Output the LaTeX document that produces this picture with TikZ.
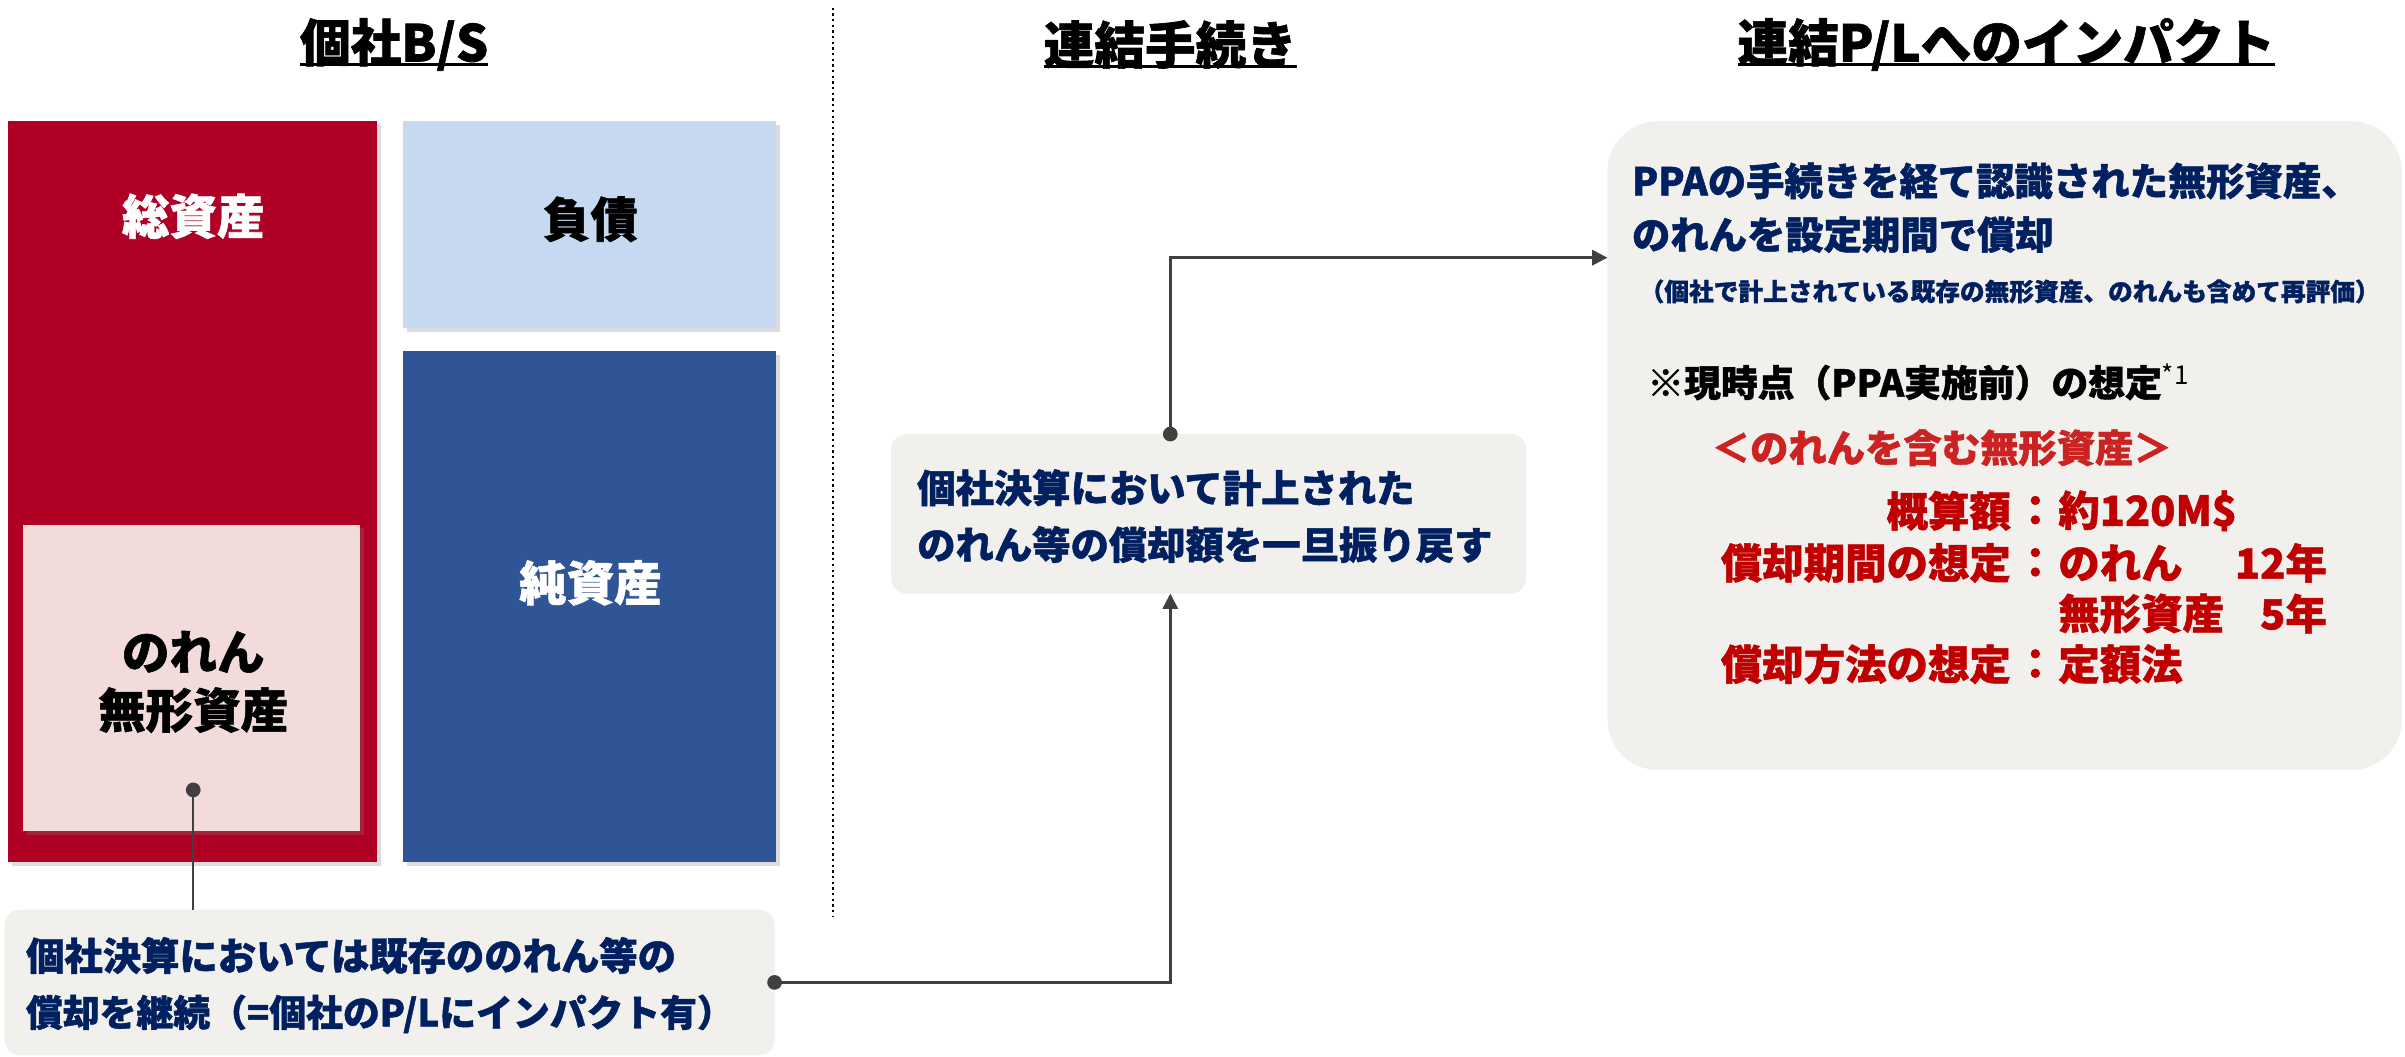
\documentclass[tikz,border=0pt]{standalone}
\usepackage{fontspec}
\setmainfont{Noto Sans CJK JP}[BoldFeatures={FakeBold=1.2}]
\usetikzlibrary{arrows.meta,shadows,calc}
\definecolor{redbox}{HTML}{B10026}
\definecolor{lightblue}{HTML}{C6D9F1}
\definecolor{darkblue}{HTML}{2F5597}
\definecolor{pinkbox}{HTML}{F2DCDB}
\definecolor{graybox}{HTML}{F2F0ED}
\definecolor{navy}{HTML}{002060}
\definecolor{redtext}{HTML}{C00000}
\definecolor{redhead}{HTML}{CC2222}
\definecolor{conn}{HTML}{404040}
\begin{document}
\begin{tikzpicture}[x=1pt,y=-1pt,
  every node/.style={inner sep=0pt,outer sep=0pt},
  ttl/.style={font=\fontsize{33}{36}\selectfont\bfseries,text=black},
  big/.style={font=\fontsize{31}{36}\selectfont\bfseries},
  bodyt/.style={font=\fontsize{25}{30}\selectfont\bfseries,text=navy},
  smallt/.style={font=\fontsize{16.1}{20}\selectfont\bfseries,text=navy},
  tabt/.style={font=\fontsize{27}{30}\selectfont\bfseries,text=redtext},
  sqbox/.style={anchor=north west,drop shadow={opacity=0.28,shadow xshift=2.5pt,shadow yshift=-2.5pt}},
  rbox/.style={anchor=north west,fill=graybox,rounded corners=#1},
  conline/.style={draw=conn,line width=1.6pt},
  tip/.style={-{Triangle[length=10pt,width=10pt]}},
  dotc/.style={fill=conn}
]
\useasboundingbox (0,0) rectangle (1568,689);

% titles
\node[ttl] (h1) at (257,29) {個社B/S};
\node[ttl] (h2) at (763,29) {連結手続き};
\node[ttl] (h3) at (1308,29) {連結P/Lへのインパクト};
\foreach \h in {h1,h2,h3}
  \draw[line width=2pt] ($(\h.base west)+(0,2)$) -- ($(\h.base east)+(0,2)$);

% divider
\coordinate (dvt) at (543,5);
\coordinate (dvb) at (543,598);
\draw[line width=1.2pt,dash pattern=on 1.5pt off 2.2pt] (dvt) -- (dvb);

% B/S boxes
\node[sqbox,fill=redbox,minimum width=241pt,minimum height=483pt] (ta) at (5,79) {};
\node[sqbox,fill=lightblue,minimum width=243pt,minimum height=135pt] (li) at (263,79) {};
\node[sqbox,fill=darkblue,minimum width=243pt,minimum height=333pt] (na) at (263,229) {};
\node[sqbox,fill=pinkbox,minimum width=220pt,minimum height=200pt] (gw) at (15,342) {};

\node[big,text=white] (tat) at (126,141) {総資産};
\node[big,text=black] (lit) at (385,143) {負債};
\node[big,text=white] (nat) at (385,380) {純資産};
\node[big,text=black] (gw1) at (126,425) {のれん};
\node[big,text=black] (gw2) at (126,463) {無形資産};

% gray boxes
\node[rbox=10pt,minimum width=502pt,minimum height=95pt] (bot) at (3,593) {};
\node[bodyt,anchor=west] (bot1) at (17,623) {個社決算においては既存ののれん等の};
\node[bodyt,anchor=west,font=\fontsize{24}{30}\selectfont\bfseries] (bot2) at (17,661) {償却を継続（=個社のP/Lにインパクト有）};

\node[rbox=10pt,minimum width=414pt,minimum height=104pt] (mid) at (581,283) {};
\node[bodyt,anchor=west] (mid1) at (598,318) {個社決算において計上された};
\node[bodyt,anchor=west] (mid2) at (598,355) {のれん等の償却額を一旦振り戻す};

\node[rbox=33pt,minimum width=518pt,minimum height=423pt] (rb) at (1048,79) {};
\node[bodyt,anchor=west] (r1) at (1064,118) {PPAの手続きを経て認識された無形資産、};
\node[bodyt,anchor=west] (r2) at (1064,153) {のれんを設定期間で償却};
\node[smallt,anchor=west] (r3) at (1069,190) {（個社で計上されている既存の無形資産、のれんも含めて再評価）};
\node[font=\fontsize{24}{30}\selectfont\bfseries,anchor=west] (r4) at (1074,249) {※現時点（PPA実施前）の想定\raisebox{8pt}{\mdseries\fontsize{17}{17}\selectfont *1}};
\node[font=\fontsize{25}{30}\selectfont\bfseries,text=redhead,anchor=west] (r5) at (1116,292) {＜のれんを含む無形資産＞};

\node[tabt,anchor=east] (k1) at (1311,333) {概算額};
\node[tabt] (c1) at (1327,333) {：};
\node[tabt,anchor=west] (v1) at (1342,333) {約120M\$};
\node[tabt,anchor=east] (k2) at (1311,367) {償却期間の想定};
\node[tabt] (c2) at (1327,367) {：};
\node[tabt,anchor=west] (v2) at (1342,367) {のれん};
\node[tabt,anchor=east] (y2) at (1517,367) {12年};
\node[tabt,anchor=west] (v3) at (1342,400) {無形資産};
\node[tabt,anchor=east] (y3) at (1517,400) {5年};
\node[tabt,anchor=east] (k4) at (1311,433) {償却方法の想定};
\node[tabt] (c4) at (1327,433) {：};
\node[tabt,anchor=west] (v4) at (1342,433) {定額法};

% connectors
\coordinate (gwdot) at (126,515);
\draw[conline] (gwdot) -- (gwdot |- bot.north);
\fill[dotc] (gwdot) circle (4.8pt);

\coordinate (midb) at ([xshift=182pt]mid.south west);
\coordinate (midt) at ([xshift=182pt]mid.north west);
\coordinate (rbin) at ([yshift=-89pt]rb.north west);

\draw[conline,tip] (bot.east) -| (midb);
\fill[dotc] (bot.east) circle (4.8pt);

\draw[conline,tip] (midt) |- (rbin);
\fill[dotc] (midt) circle (4.8pt);
\end{tikzpicture}
\end{document}
